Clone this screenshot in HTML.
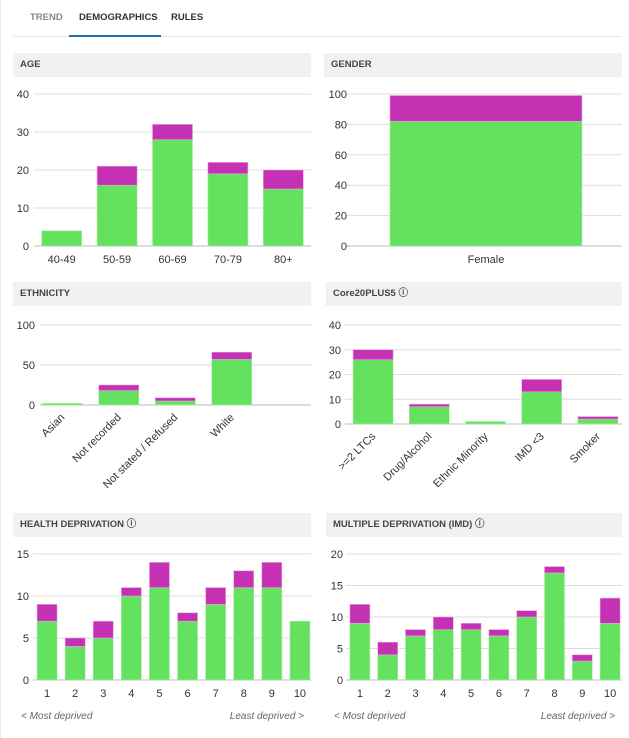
<!DOCTYPE html>
<html><head><meta charset="utf-8">
<style>
body{margin:0;width:629px;height:738px;background:#fff;font-family:"Liberation Sans",sans-serif;position:relative;overflow:hidden}
.tab{position:absolute;top:12px;font-size:9.5px;font-weight:bold;color:#333}
.hdr{position:absolute;background:#f0f1f2;height:24px;font-size:9.5px;font-weight:bold;color:#444;line-height:24px;padding-left:7px;box-sizing:border-box}
svg{position:absolute;left:0;top:0}
text{font-family:"Liberation Sans",sans-serif}
</style></head><body>
<div style="position:absolute;left:0;top:0;width:1px;height:738px;background:#e6e8ea"></div>
<div class="tab" style="left:30px;color:#888">TREND</div>
<div class="tab" style="left:79px">DEMOGRAPHICS</div>
<div class="tab" style="left:171px">RULES</div>
<div style="position:absolute;left:13px;top:36px;width:607px;height:1px;background:#e3e5e8"></div>
<div style="position:absolute;left:69px;top:35px;width:92px;height:2px;background:#1a6fb5"></div>
<div class="hdr" style="left:13px;top:53px;width:298px">AGE</div>
<div class="hdr" style="left:324px;top:53px;width:298px">GENDER</div>
<div class="hdr" style="left:13px;top:282px;width:298px">ETHNICITY</div>
<div class="hdr" style="left:326px;top:282px;width:296px">Core20PLUS5 <span>ⓘ</span></div>
<div class="hdr" style="left:13px;top:513px;width:298px">HEALTH DEPRIVATION <span>ⓘ</span></div>
<div class="hdr" style="left:326px;top:513px;width:296px">MULTIPLE DEPRIVATION (IMD) <span>ⓘ</span></div>
<svg id="s" width="629" height="738"></svg>
<script>
const ageCats=["40-49","50-59","60-69","70-79","80+"];
const ageGreen=[4,16,28,19,15];
const ageTotal=[4,21,32,22,20];
const ageTicks=[0,10,20,30,40];
const genderCats=["Female"];
const genderGreen=[82];
const genderTotal=[99];
const genderTicks=[0,20,40,60,80,100];
const ethCats=["Asian","Not recorded","Not stated / Refused","White"];
const ethGreen=[2,18,5,57];
const ethTotal=[2,25,9,66];
const ethTicks=[0,50,100];
const coreCats=[">=2 LTCs","Drug/Alcohol","Ethnic Minority","IMD <3","Smoker"];
const coreGreen=[26,7,1,13,2];
const coreTotal=[30,8,1,18,3];
const coreTicks=[0,10,20,30,40];
const healthCats=["1","2","3","4","5","6","7","8","9","10"];
const healthGreen=[7,4,5,10,11,7,9,11,11,7];
const healthTotal=[9,5,7,11,14,8,11,13,14,7];
const healthTicks=[0,5,10,15];
const imdCats=["1","2","3","4","5","6","7","8","9","10"];
const imdGreen=[9,4,7,8,8,7,10,17,3,9];
const imdTotal=[12,6,8,10,9,8,11,18,4,13];
const imdTicks=[0,5,10,15,20];

const NS="http://www.w3.org/2000/svg";
const svg=document.getElementById('s');
function mk(t,a,p){const e=document.createElementNS(NS,t);for(const k in a)e.setAttribute(k,a[k]);(p||svg).appendChild(e);return e;}
function chart(name,cats,green,total,ticks,o){
  const g=mk('g',{});
  
  
  const max=ticks[ticks.length-1];
  const y=v=>o.yb-(v/max)*(o.yb-o.yt);
  const band=(o.px1-o.px0)/cats.length;
  const cx=i=>o.px0+band*(i+0.5);
  ticks.forEach(t=>{
    const l=mk('line',{x1:o.gx0,x2:o.gx1,y1:y(t),y2:y(t),stroke:t===0?'#bbb':'#ddd','stroke-width':1},g);
    
    
    const tx=mk('text',{x:o.lx,y:y(t)+4,'text-anchor':'end','font-size':11,fill:'#333'},g);
    tx.textContent=t;
    
    
  });
  cats.forEach((c,i)=>{
    const x=cx(i)-o.bw/2;
    const r1=mk('rect',{x:x,y:y(green[i]),width:o.bw,height:y(0)-y(green[i]),fill:'#63e15f',stroke:'#a8eea6','stroke-width':0.6},g);
    
    
    if(total[i]>green[i]){
      const r2=mk('rect',{x:x,y:y(total[i]),width:o.bw,height:y(green[i])-y(total[i]),fill:'#c431b3',stroke:'#e8a3e0','stroke-width':0.6},g);
      
      
    }
    let tx;
    if(o.rot){
      tx=mk('text',{x:cx(i)+3,y:o.yb+13,'text-anchor':'end','font-size':11,fill:'#333',transform:`rotate(-45 ${cx(i)+3} ${o.yb+13})`},g);
    } else {
      tx=mk('text',{x:cx(i),y:o.yb+17,'text-anchor':'middle','font-size':11,fill:'#333'},g);
    }
    tx.textContent=c;
    
    
  });
}
chart('age',ageCats,ageGreen,ageTotal,ageTicks,{yt:94,yb:246,gx0:34,gx1:311,lx:29,px0:34,px1:311,bw:40});
chart('gender',genderCats,genderGreen,genderTotal,genderTicks,{yt:94,yb:246,gx0:346,gx1:622,lx:347,px0:346,px1:626,bw:192});
chart('ethnicity',ethCats,ethGreen,ethTotal,ethTicks,{yt:325,yb:405,gx0:40,gx1:311,lx:35,px0:34,px1:260,bw:40,rot:true});
chart('core20',coreCats,coreGreen,coreTotal,coreTicks,{yt:325,yb:424,gx0:345,gx1:622,lx:341,px0:345,px1:626,bw:40,rot:true});
chart('health',healthCats,healthGreen,healthTotal,healthTicks,{yt:554,yb:680,gx0:33,gx1:311,lx:29,px0:33,px1:314,bw:20});
chart('imd',imdCats,imdGreen,imdTotal,imdTicks,{yt:554,yb:680,gx0:346,gx1:622,lx:343,px0:346,px1:624,bw:20});
[[21,'< Most deprived','start','health-most-deprived'],[304,'Least deprived >','end','health-least-deprived'],[334,'< Most deprived','start','imd-most-deprived'],[615,'Least deprived >','end','imd-least-deprived']].forEach(a=>{
  const t=mk('text',{x:a[0],y:719,'text-anchor':a[2],'font-size':10,'font-style':'italic',fill:'#666'});
  t.textContent=a[1];
  
  
});
</script>
</body></html>
